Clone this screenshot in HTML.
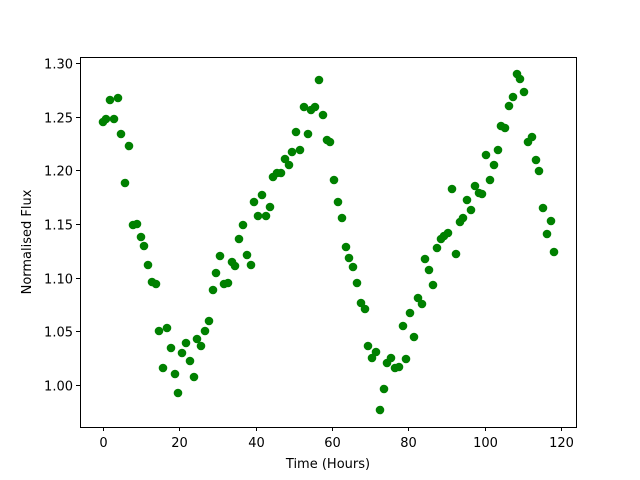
<!DOCTYPE html>
<html><head><meta charset="utf-8"><style>body{margin:0;background:#fff}svg{display:block}text{font-family:"DejaVu Sans","Liberation Sans",sans-serif;font-size:13px;fill:#000}</style></head>
<body>
<svg id="s" width="640" height="480" xmlns="http://www.w3.org/2000/svg">
<rect width="640" height="480" fill="#fff"/>
<g id="pts" fill="#008000"></g>
<rect x="80.5" y="57.5" width="496" height="370" fill="none" stroke="#000" stroke-width="1"/>
<g id="ax" stroke="#000" stroke-width="1"></g>
<text x="328" y="468" text-anchor="middle">Time (Hours)</text>
<text transform="translate(31,242) rotate(-90)" text-anchor="middle">Normalised Flux</text>
</svg>
<script>
var p=[[103,122],[106,119],[110,100],[114,119],[118,98],[121,134],[125,183],[129,146],[133,225],[137,224],[141,237],[144,246],[148,265],[152,282],[156,284],[159,331],[163,368],[167,328],[171,348],[175,374],[178,393],[182,353],[186,343],[190,361],[194,377],[197,339],[201,346],[205,331],[209,321],[213,290],[216,273],[220,256],[224,284],[228,283],[232,262],[235,266],[239,239],[243,225],[247,255],[251,265],[254,202],[258,216],[262,195],[266,216],[270,207],[273,177],[277,173],[281,173],[285,159],[289,165],[292,152],[296,132],[300,150],[304,107],[308,134],[311,110],[315,107],[319,80],[323,115],[327,140],[330,142],[334,180],[338,202],[342,218],[346,247],[349,258],[353,267],[357,283],[361,303],[365,309],[368,346],[372,358],[376,352],[380,410],[384,389],[387,363],[391,358],[395,368],[399,367],[403,326],[406,359],[410,313],[414,337],[418,298],[422,304],[425,259],[429,270],[433,285],[437,248],[441,239],[444,236],[448,233],[452,189],[456,254],[460,222],[463,218],[467,200],[471,210],[475,186],[479,193],[482,194],[486,155],[490,180],[494,165],[498,150],[501,126],[505,128],[509,106],[513,97],[517,74],[520,79],[524,92],[528,142],[532,137],[536,160],[539,171],[543,208],[547,234],[551,221],[554,252]];
var ns="http://www.w3.org/2000/svg",g=document.getElementById("pts"),a=document.getElementById("ax"),s=document.getElementById("s");
p.forEach(function(q){var c=document.createElementNS(ns,"circle");c.setAttribute("cx",q[0]);c.setAttribute("cy",q[1]);c.setAttribute("r",4.3);g.appendChild(c);});
function L(x1,y1,x2,y2){var l=document.createElementNS(ns,"line");l.setAttribute("x1",x1);l.setAttribute("y1",y1);l.setAttribute("x2",x2);l.setAttribute("y2",y2);a.appendChild(l);}
function T(x,y,t,an){var e=document.createElementNS(ns,"text");e.setAttribute("x",x);e.setAttribute("y",y);e.setAttribute("text-anchor",an);e.textContent=t;s.appendChild(e);}
for(var i=0;i<=6;i++){var x=103+i*(458/6);x=Math.round(x)+0.5;L(x,427,x,431);T(x,447,String(i*20),"middle");}
for(var j=0;j<=6;j++){var y=385-j*(322/6);y=Math.round(y)+0.5;L(80,y,76,y);T(73,y+5,(1+j*0.05).toFixed(2),"end");}
</script>
</body></html>
